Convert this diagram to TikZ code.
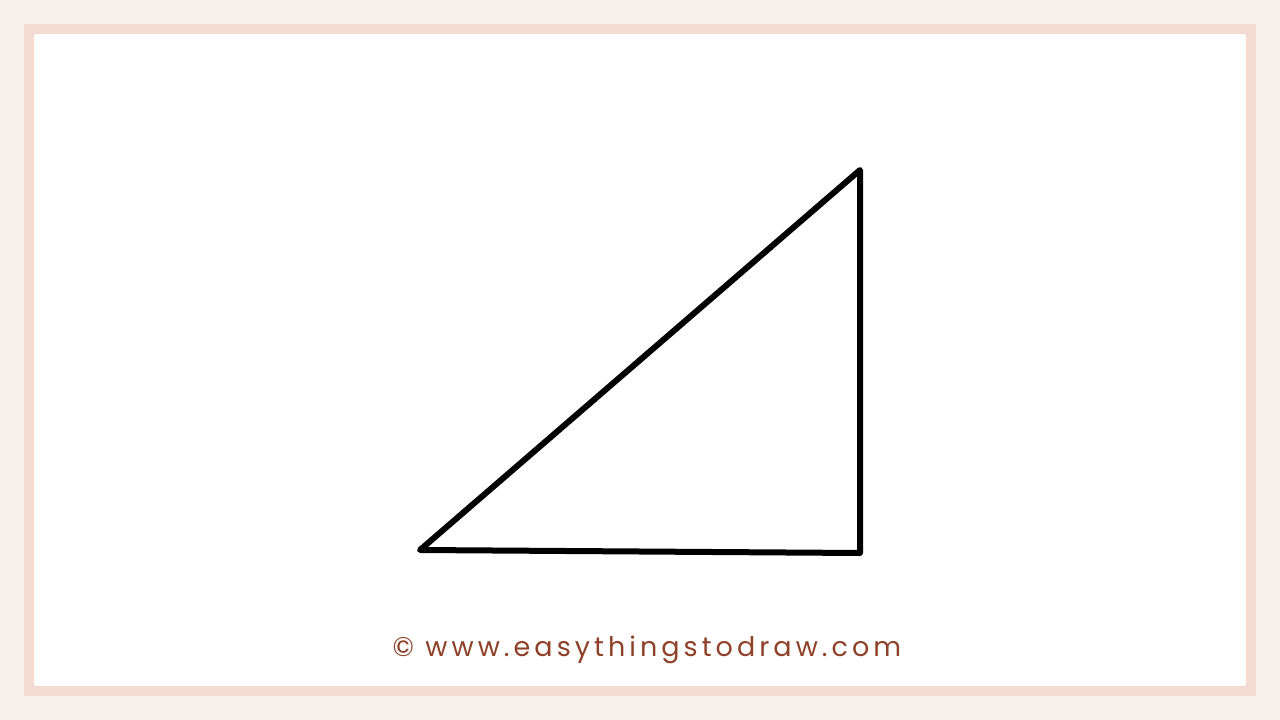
\documentclass[tikz,border=0pt]{standalone}
\usepackage{fontspec}
\setmainfont{Poppins}
\definecolor{paper}{HTML}{F8F0EA}
\definecolor{band}{HTML}{F5DAD2}
\definecolor{credit}{HTML}{8E4128}
\begin{document}
\begin{tikzpicture}[x=1pt, y=-1pt,
    edge/.style = {line width=6pt, line join=round, line cap=round}]
    \fill[paper] (0,0) rectangle (1280,720);
    \fill[band] (24,24) rectangle (1256,696);
    \fill[white] (34,34) rectangle (1246,686);
    % triangle
    \coordinate (left) at (420,550);
    \coordinate (top) at (860,170);
    \coordinate (corner) at (860,553);
    \draw[edge] (left) -- (top) -- (corner) -- cycle;
    \node[text=credit, font={\fontsize{27pt}{32pt}\selectfont\addfontfeature{LetterSpace=15}}]
        (site) at (647,650) {© www.easythingstodraw.com};
\end{tikzpicture}
\end{document}
